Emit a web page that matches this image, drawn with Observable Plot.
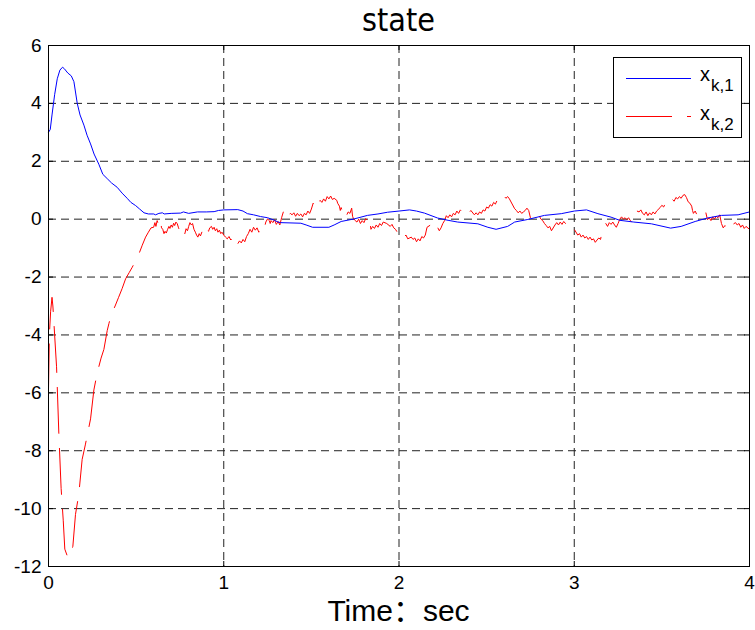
<!DOCTYPE html>
<html>
<head>
<meta charset="utf-8">
<script src="https://cdn.jsdelivr.net/npm/d3@7"></script>
<script src="https://cdn.jsdelivr.net/npm/@observablehq/plot@0.6"></script>
<style>
  html, body { margin: 0; padding: 0; background: #fff; }
  #wrap { position: relative; width: 755px; height: 630px; font-family: "Liberation Sans", Arial, sans-serif; }
  #chart { position: absolute; left: 0; top: 0; }
  #title { position: absolute; left: 0; width: 797px; top: 3px; text-align: center; font-family: "Liberation Sans Narrow", "DejaVu Sans Condensed", "Liberation Sans", sans-serif; font-size: 32px; line-height: 34px; color: #000; }
  #xlabel { position: absolute; left: 0; width: 797px; top: 594px; text-align: center; font-size: 30px; line-height: 34px; color: #000; font-family: "Liberation Sans", "Noto Sans CJK SC", sans-serif; }
  #legend { position: absolute; left: 613px; top: 57px; width: 129px; height: 81px; box-sizing: border-box; border: 1px solid #000; background: #fff; }
  .lg-line { position: absolute; left: 12px; }
  .lg-x { position: absolute; left: 86px; font-size: 20px; line-height: 20px; }
  .lg-sub { position: absolute; left: 97px; font-size: 17px; line-height: 17px; }
</style>
</head>
<body>
<div id="wrap">
  <div id="chart"></div>
  <div id="title">state</div>
  <div id="xlabel">Time：sec</div>
  <div id="legend"></div>
</div>
<script>
// ---- data ----
const xTicks = [0, 1, 2, 3, 4];
const yTicks = [-12, -10, -8, -6, -4, -2, 0, 2, 4, 6];
const seriesNames = ["x_{k,1}", "x_{k,2}"];
const seriesColors = ["#0000ff", "#ff0000"];

// x_{k,1}
const t1 = [0, 0.01, 0.02, 0.035, 0.05, 0.065, 0.08, 0.09, 0.11, 0.13, 0.145, 0.164, 0.18, 0.202, 0.22, 0.24, 0.26, 0.287, 0.31, 0.335, 0.36, 0.392, 0.42, 0.449, 0.47, 0.497, 0.52, 0.545, 0.57, 0.6, 0.611, 0.63, 0.65, 0.66, 0.7, 0.754, 0.77, 0.8, 0.85, 0.9, 0.945, 0.97, 1.0, 1.08, 1.11, 1.135, 1.17, 1.21, 1.25, 1.29, 1.31, 1.325, 1.44, 1.47, 1.507, 1.6, 1.63, 1.67, 1.745, 1.82, 1.88, 1.935, 2.0, 2.06, 2.1, 2.145, 2.22, 2.28, 2.335, 2.45, 2.507, 2.554, 2.62, 2.66, 2.735, 2.83, 2.926, 3.0, 3.07, 3.135, 3.21, 3.26, 3.34, 3.44, 3.55, 3.61, 3.69, 3.76, 3.84, 3.935, 4.0];
const v1 = [3.0, 3.1, 3.6, 4.3, 4.85, 5.15, 5.25, 5.2, 5.05, 4.95, 4.75, 4.0, 3.6, 3.25, 2.9, 2.6, 2.25, 1.9, 1.55, 1.4, 1.25, 1.1, 0.9, 0.72, 0.58, 0.47, 0.35, 0.22, 0.18, 0.18, 0.15, 0.2, 0.22, 0.18, 0.2, 0.21, 0.25, 0.2, 0.25, 0.25, 0.26, 0.3, 0.32, 0.33, 0.28, 0.19, 0.15, 0.09, 0.05, -0.04, -0.1, -0.12, -0.14, -0.2, -0.28, -0.28, -0.2, -0.08, 0.01, 0.13, 0.18, 0.24, 0.28, 0.32, 0.28, 0.21, 0.04, -0.04, -0.1, -0.16, -0.28, -0.35, -0.25, -0.1, -0.01, 0.13, 0.19, 0.28, 0.32, 0.19, 0.07, -0.04, -0.1, -0.16, -0.31, -0.25, -0.08, 0.04, 0.13, 0.15, 0.25];

// x_{k,2}
const t2 = [0, 0.005, 0.012, 0.02, 0.025, 0.03, 0.046, 0.059, 0.072, 0.084, 0.093, 0.105, 0.12, 0.13, 0.139, 0.154, 0.173, 0.192, 0.21, 0.22, 0.24, 0.259, 0.275, 0.287, 0.30, 0.316, 0.335, 0.345, 0.358, 0.38, 0.40, 0.42, 0.44, 0.46, 0.478, 0.50, 0.516, 0.535, 0.554, 0.57, 0.585,
  0.60, 0.607, 0.613, 0.62, 0.627, 0.633, 0.64, 0.645, 0.652, 0.659, 0.665, 0.672, 0.68, 0.687, 0.693, 0.70, 0.707, 0.714, 0.72, 0.727, 0.735, 0.742, 0.75, 0.757, 0.764, 0.771, 0.778, 0.785, 0.793,
  0.80, 0.807, 0.815, 0.822, 0.83, 0.838, 0.845, 0.852, 0.86, 0.867, 0.875, 0.882, 0.89, 0.897, 0.905, 0.913, 0.92, 0.93, 0.937, 0.945, 0.952, 0.96, 0.967, 0.975, 0.983, 0.99, 1.0, 1.01, 1.02,
  1.03, 1.04, 1.05, 1.06, 1.07, 1.08, 1.09, 1.1, 1.11, 1.12, 1.13, 1.14, 1.15, 1.16, 1.17, 1.18, 1.19, 1.2, 1.21, 1.22, 1.23, 1.24, 1.25, 1.26, 1.265, 1.27, 1.28, 1.29, 1.30, 1.31, 1.32, 1.33, 1.34, 1.35, 1.355,
  1.36, 1.37, 1.38, 1.39, 1.40, 1.41, 1.42, 1.43, 1.44, 1.45, 1.46, 1.47, 1.48, 1.49, 1.50, 1.51, 1.52, 1.53, 1.54, 1.55, 1.56, 1.57, 1.58, 1.59, 1.60, 1.61, 1.62, 1.63,
  1.645, 1.65, 1.66, 1.665, 1.67, 1.68, 1.69, 1.70, 1.71, 1.72, 1.73, 1.735, 1.74, 1.75, 1.76, 1.77, 1.78, 1.79, 1.80, 1.81, 1.82, 1.83,
  1.84, 1.85, 1.86, 1.87, 1.88, 1.89, 1.90, 1.91, 1.93, 1.95, 1.96, 1.97, 1.98, 1.99, 2.00, 2.01, 2.02, 2.03, 2.04, 2.05,
  2.07, 2.08, 2.09, 2.10, 2.11, 2.12, 2.13, 2.14, 2.15, 2.16, 2.18, 2.19, 2.20, 2.21, 2.22, 2.23, 2.24, 2.25, 2.26, 2.27, 2.28, 2.29, 2.30, 2.31, 2.32, 2.33, 2.34, 2.35, 2.36, 2.37, 2.38, 2.39, 2.40, 2.41,
  2.43, 2.44, 2.45, 2.46, 2.47, 2.48, 2.49, 2.50, 2.51, 2.52, 2.53, 2.54, 2.55, 2.56, 2.57, 2.58, 2.59, 2.60, 2.61, 2.62, 2.63,
  2.66, 2.67, 2.68, 2.69, 2.70, 2.71, 2.72, 2.73, 2.74, 2.75, 2.76, 2.77, 2.78, 2.79, 2.80, 2.81, 2.82, 2.83, 2.84, 2.85, 2.86, 2.87,
  2.89, 2.90, 2.91, 2.92, 2.93, 2.94, 2.95, 2.96, 2.97, 2.98, 2.99, 3.00,
  3.02, 3.03, 3.04, 3.05, 3.06, 3.07, 3.08, 3.09, 3.10, 3.11, 3.12, 3.13, 3.14, 3.15, 3.16, 3.17,
  3.18, 3.19, 3.20, 3.21, 3.22, 3.23, 3.24, 3.25, 3.26, 3.27, 3.28, 3.29, 3.30, 3.31, 3.32, 3.33, 3.34, 3.35,
  3.37, 3.38, 3.39, 3.40, 3.41, 3.42, 3.43, 3.44, 3.45, 3.46, 3.47,
  3.49, 3.50, 3.51, 3.52, 3.53, 3.54, 3.55, 3.56, 3.57, 3.58, 3.59, 3.60, 3.61, 3.62, 3.63,
  3.64, 3.65, 3.66, 3.67, 3.675, 3.68, 3.69, 3.70, 3.71, 3.72, 3.73,
  3.75, 3.76, 3.77, 3.78, 3.79, 3.80, 3.81, 3.82, 3.83, 3.84, 3.85, 3.86, 3.87, 3.88, 3.89, 3.90,
  3.92, 3.93, 3.94, 3.95, 3.96, 3.97, 3.98, 4.00];
const v2 = [-5.9, -4.0, -3.2, -2.7, -3.0, -3.5, -5.1, -7.4, -9.3, -10.4, -11.4, -11.6, -11.7, -11.5, -11.3, -10.2, -9.5, -8.3, -7.8, -7.5, -6.9, -5.9, -5.4, -5.1, -4.8, -4.5, -3.85, -3.6, -3.3, -3.0, -2.7, -2.4, -2.06, -1.85, -1.66, -1.4, -1.2, -0.9, -0.62, -0.45, -0.3,
  -0.28, -0.12, -0.25, -0.05, -0.18, 0.0, -0.1, -0.3, -0.35, -0.5, -0.42, -0.48, -0.35, -0.25, -0.32, -0.2, -0.28, -0.14, -0.22, -0.1, -0.16, -0.3, -0.42, -0.38, -0.56, -0.45, -0.5, -0.33, -0.4,
  -0.25, -0.12, -0.2, -0.15, -0.35, -0.45, -0.55, -0.62, -0.5, -0.58, -0.45, -0.52, -0.4, -0.48, -0.35, -0.42, -0.3, -0.25, -0.35, -0.28, -0.4, -0.33, -0.45, -0.38, -0.5, -0.45, -0.55, -0.62, -0.68,
  -0.6, -0.72, -0.65, -0.8, -0.7, -0.85, -0.75, -0.82, -0.7, -0.78, -0.6, -0.5, -0.35, -0.45, -0.28, -0.38, -0.3, -0.45, -0.4, -0.5, -0.35, -0.1, 0.01, -0.05, -0.15, -0.05, -0.12, -0.02, -0.18, -0.08, -0.2, 0.05, 0.25, 0.2, 0.32,
  0.18, 0.12, 0.2, 0.15, 0.22, 0.1, 0.2, 0.12, 0.18, 0.08, 0.2, 0.15, 0.28, 0.2, 0.35, 0.55, 0.45, 0.6, 0.5, 0.65, 0.58, 0.7, 0.62, 0.78, 0.7, 0.8, 0.68, 0.72,
  0.65, 0.55, 0.45, 0.3, 0.4, 0.2, 0.3, 0.12, 0.25, 0.2, 0.38, 0.1, 0.02, -0.05, -0.1, 0.0, -0.15, -0.05, -0.12, 0.02, -0.05, 0.08,
  -0.35, -0.25, -0.32, -0.2, -0.28, -0.15, -0.22, -0.1, -0.15, -0.25, -0.18, -0.3, -0.35, -0.45, -0.4, -0.5, -0.45, -0.6, -0.55, -0.68,
  -0.62, -0.7, -0.65, -0.78, -0.68, -0.75, -0.6, -0.65, -0.55, -0.28, -0.2, -0.3, -0.22, -0.35, -0.28, -0.4, -0.3, -0.15, -0.05, 0.12, 0.05, 0.15, 0.08, 0.2, 0.15, 0.28, 0.2, 0.32, 0.25, 0.3, 0.2, 0.28, 0.22, 0.3,
  0.15, 0.22, 0.15, 0.25, 0.2, 0.32, 0.28, 0.42, 0.38, 0.5, 0.45, 0.58, 0.52, 0.65, 0.6, 0.72, 0.68, 0.8, 0.72, 0.78, 0.7,
  0.36, 0.3, 0.22, 0.28, 0.2, 0.25, 0.3, 0.38, 0.3, 0.05, 0.12, 0.05, 0.15, 0.08, 0.12, 0.0, -0.05, -0.15, -0.22, -0.3, -0.25, -0.4,
  -0.2, -0.12, -0.2, -0.1, -0.18, -0.08, -0.15, -0.22, -0.18, -0.3, -0.25, -0.35,
  -0.55, -0.5, -0.62, -0.55, -0.65, -0.6, -0.7, -0.62, -0.72, -0.68, -0.8, -0.72, -0.65, -0.7, -0.4, -0.22,
  -0.15, -0.25, -0.12, -0.18, -0.1, -0.2, -0.28, -0.15, 0.0, 0.08, 0.0, 0.05, -0.02, 0.05, -0.05, -0.1, 0.05, 0.3,
  0.25, 0.32, 0.2, 0.15, 0.25, 0.12, 0.22, 0.15, 0.25, 0.18, 0.28,
  0.4, 0.48, 0.42, 0.55, 0.5, 0.6, 0.55, 0.68, 0.62, 0.75, 0.7, 0.78, 0.72, 0.82, 0.85,
  0.75, 0.6, 0.55, 0.45, 0.3, 0.2, 0.28, 0.15, 0.22, 0.12, 0.2,
  0.25, -0.02, 0.05, -0.05, 0.08, 0.0, 0.1, 0.05, 0.15, -0.15, -0.3, -0.22, -0.35, -0.25, -0.3, -0.2,
  -0.12, -0.2, -0.15, -0.28, -0.2, -0.32, -0.25, -0.35];

// ---- build chart ----
const s1 = t1.map((t, i) => ({t, v: v1[i]}));
const s2 = t2.map((t, i) => ({t, v: v2[i]}));
const xDomain = [0, 4], yDomain = [-12, 6];
const W = 755, H = 630, mL = 48, mR = 6, mT = 45, mB = 64;
const tickPx = 5;
const tickX = tickPx * (xDomain[1] - xDomain[0]) / (W - mL - mR);
const tickY = tickPx * (yDomain[1] - yDomain[0]) / (H - mT - mB);
const gridStyle = {stroke: "#222", strokeOpacity: 1, strokeWidth: 1, strokeDasharray: "8,5"};
const fmt = d => String(d);

const chart = Plot.plot({
  width: W, height: H,
  marginLeft: mL, marginRight: mR, marginTop: mT, marginBottom: mB,
  style: {fontFamily: "Liberation Sans, Arial, sans-serif", fontSize: "19px", color: "#000", background: "#fff", overflow: "visible"},
  x: {domain: xDomain, ticks: xTicks, label: null, tickFormat: fmt},
  y: {domain: yDomain, ticks: yTicks, label: null, tickFormat: fmt},
  marks: [
    Plot.gridX(xTicks, gridStyle),
    Plot.gridY(yTicks, gridStyle),
    Plot.ruleX(xTicks, {x: d => d, y1: yDomain[0], y2: yDomain[0] + tickY, stroke: "#000"}),
    Plot.ruleX(xTicks, {x: d => d, y1: yDomain[1], y2: yDomain[1] - tickY, stroke: "#000"}),
    Plot.ruleY(yTicks, {y: d => d, x1: xDomain[0], x2: xDomain[0] + tickX, stroke: "#000"}),
    Plot.ruleY(yTicks, {y: d => d, x1: xDomain[1], x2: xDomain[1] - tickX, stroke: "#000"}),
    Plot.line(s2, {x: "t", y: "v", stroke: seriesColors[1], strokeWidth: 1, strokeDasharray: "46,15"}),
    Plot.line(s1, {x: "t", y: "v", stroke: seriesColors[0], strokeWidth: 1}),
    Plot.axisX(xTicks, {tickSize: 0, tickPadding: 9, fill: "#000", tickFormat: fmt}),
    Plot.axisY(yTicks, {tickSize: 0, tickPadding: 7, fill: "#000", tickFormat: fmt}),
    Plot.frame({stroke: "#000", strokeWidth: 1})
  ]
});
document.getElementById("chart").appendChild(chart);

// ---- legend ----
const legend = document.getElementById("legend");
const rows = [
  {lineTop: 20, xTop: 6, subTop: 19, dash: null},
  {lineTop: 58, xTop: 45, subTop: 58, dash: "46,15"}
];
rows.forEach((r, i) => {
  const ns = "http://www.w3.org/2000/svg";
  const svg = document.createElementNS(ns, "svg");
  svg.setAttribute("width", "66"); svg.setAttribute("height", "3");
  svg.setAttribute("class", "lg-line");
  svg.style.top = (r.lineTop - 1) + "px";
  const ln = document.createElementNS(ns, "line");
  ln.setAttribute("x1", "0"); ln.setAttribute("x2", "65");
  ln.setAttribute("y1", "1.5"); ln.setAttribute("y2", "1.5");
  ln.setAttribute("stroke", seriesColors[i]);
  if (r.dash) ln.setAttribute("stroke-dasharray", r.dash);
  svg.appendChild(ln);
  legend.appendChild(svg);
  const m = seriesNames[i].match(/^(.*)_\{(.*)\}$/);
  const x = document.createElement("div");
  x.className = "lg-x"; x.style.top = r.xTop + "px"; x.textContent = m[1];
  const sub = document.createElement("div");
  sub.className = "lg-sub"; sub.style.top = r.subTop + "px"; sub.textContent = m[2];
  legend.appendChild(x); legend.appendChild(sub);
});
</script>
</body>
</html>
